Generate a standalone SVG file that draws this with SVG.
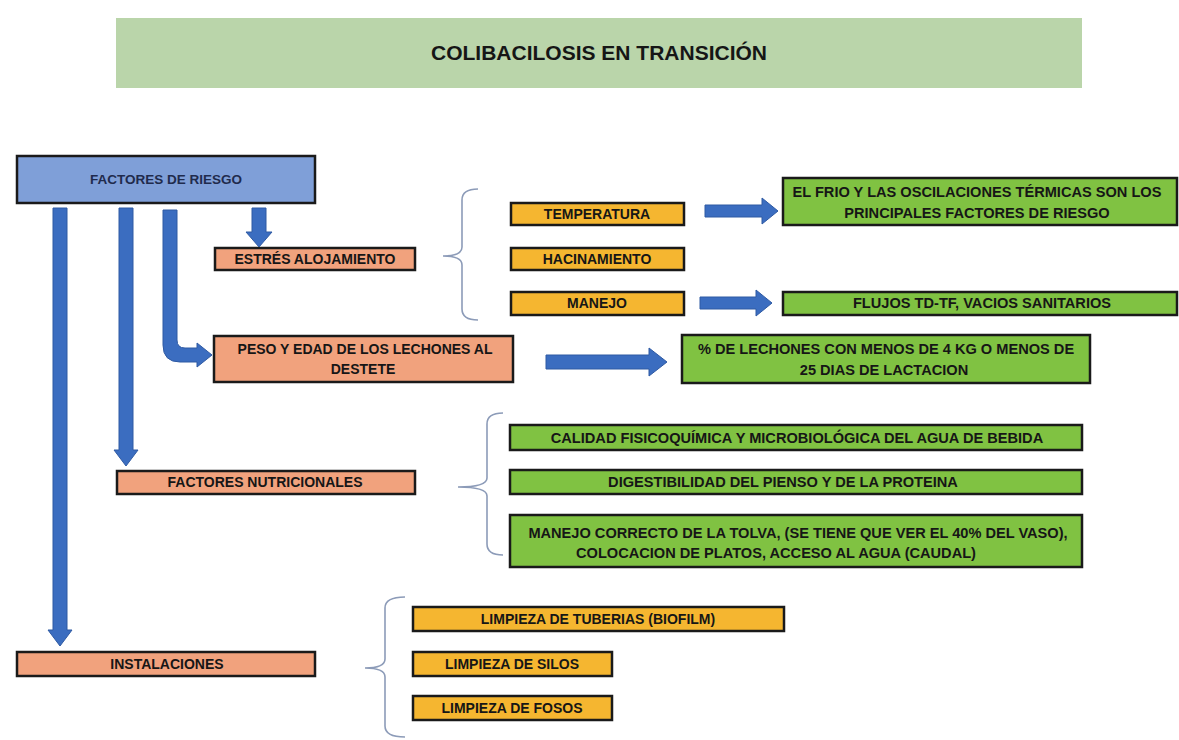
<svg xmlns="http://www.w3.org/2000/svg" width="1179" height="740" viewBox="0 0 1179 740">
<style>
.t{font-family:"Liberation Sans",Arial,sans-serif;font-weight:bold;font-size:14px;fill:#161616;text-anchor:middle}
.g{font-size:14.6px}
.bx{stroke:#1a1a1a;stroke-width:2.5}
.blue{fill:#7f9fd8}
.sal{fill:#f1a27d}
.org{fill:#f5b630}
.grn{fill:#80c242}
.arr{fill:#3b6dc0;stroke:#2f5aa3;stroke-width:1}
.br{fill:none;stroke:#8c9bb8;stroke-width:1.6}
</style>
<rect width="1179" height="740" fill="#ffffff"/>
<g id="title">
<rect x="116" y="18" width="966" height="70" fill="#bad5aa"/>
<text class="t" x="599" y="60" style="font-size:21px">COLIBACILOSIS EN TRANSICIÓN</text>
</g>
<g id="factores-riesgo">
<rect class="bx blue" x="17" y="156" width="298" height="47"/>
<text class="t" x="166" y="184" style="fill:#1f2b4d;font-size:13.5px">FACTORES DE RIESGO</text>
</g>
<g id="estres">
<rect class="bx sal" x="215" y="248" width="200" height="22"/>
<text class="t" x="315" y="264">ESTRÉS ALOJAMIENTO</text>
</g>
<g id="temperatura">
<rect class="bx org" x="511" y="203" width="173" height="22"/>
<text class="t" x="597" y="219">TEMPERATURA</text>
</g>
<g id="hacinamiento">
<rect class="bx org" x="511" y="248" width="173" height="22"/>
<text class="t" x="597" y="264">HACINAMIENTO</text>
</g>
<g id="manejo">
<rect class="bx org" x="511" y="292" width="173" height="23"/>
<text class="t" x="597" y="308">MANEJO</text>
</g>
<g id="frio">
<rect class="bx grn" x="783" y="178" width="394" height="47"/>
<text class="t g" x="977" y="197">EL FRIO Y LAS OSCILACIONES TÉRMICAS SON LOS</text>
<text class="t g" x="977" y="218">PRINCIPALES FACTORES DE RIESGO</text>
</g>
<g id="flujos">
<rect class="bx grn" x="783" y="292" width="394" height="23"/>
<text class="t g" x="982" y="308">FLUJOS TD-TF, VACIOS SANITARIOS</text>
</g>
<g id="peso">
<rect class="bx sal" x="214" y="336" width="299" height="46"/>
<text class="t" x="365" y="354">PESO Y EDAD DE LOS LECHONES AL</text>
<text class="t" x="363" y="374">DESTETE</text>
</g>
<g id="lechones">
<rect class="bx grn" x="682" y="335" width="408" height="48"/>
<text class="t g" x="886" y="354">% DE LECHONES CON MENOS DE 4 KG O MENOS DE</text>
<text class="t g" x="884" y="375">25 DIAS DE LACTACION</text>
</g>
<g id="calidad">
<rect class="bx grn" x="510" y="425" width="572" height="25"/>
<text class="t g" x="797" y="443">CALIDAD FISICOQUÍMICA Y MICROBIOLÓGICA DEL AGUA DE BEBIDA</text>
</g>
<g id="digestibilidad">
<rect class="bx grn" x="510" y="470" width="572" height="24"/>
<text class="t g" x="783" y="487">DIGESTIBILIDAD DEL PIENSO Y DE LA PROTEINA</text>
</g>
<g id="tolva">
<rect class="bx grn" x="510" y="515" width="572" height="52"/>
<text class="t g" x="798" y="538">MANEJO CORRECTO DE LA TOLVA, (SE TIENE QUE VER EL 40% DEL VASO),</text>
<text class="t g" x="776" y="558">COLOCACION DE PLATOS, ACCESO AL AGUA (CAUDAL)</text>
</g>
<g id="nutricionales">
<rect class="bx sal" x="117" y="471" width="298" height="23"/>
<text class="t" x="265" y="487">FACTORES NUTRICIONALES</text>
</g>
<g id="instalaciones">
<rect class="bx sal" x="17" y="652" width="298" height="24"/>
<text class="t" x="167" y="669">INSTALACIONES</text>
</g>
<g id="tuberias">
<rect class="bx org" x="413" y="607" width="371" height="24"/>
<text class="t" x="598" y="624">LIMPIEZA DE TUBERIAS (BIOFILM)</text>
</g>
<g id="silos">
<rect class="bx org" x="413" y="652" width="199" height="24"/>
<text class="t" x="512" y="669">LIMPIEZA DE SILOS</text>
</g>
<g id="fosos">
<rect class="bx org" x="413" y="696" width="199" height="24"/>
<text class="t" x="512" y="713">LIMPIEZA DE FOSOS</text>
</g>
<g id="connectors">
<polygon class="arr" points="53,208 67,208 67,630 72,630 60,646 48,630 53,630"/>
<polygon class="arr" points="119,208 133,208 133,450 138,450 126,466 114,450 119,450"/>
<path class="arr" d="M163,210 L177,210 L177,340 Q177,348 185,348 L197,348 L197,343 L212,355 L197,367 L197,362 L180,362 Q163,362 163,345 Z"/>
<polygon class="arr" points="252,208 266,208 266,232 272,232 259,247 246,232 252,232"/>
<polygon class="arr" points="705,205 762,205 762,198 778,211 762,224 762,217 705,217"/>
<polygon class="arr" points="700,297 756,297 756,290 772,303 756,316 756,309 700,309"/>
<polygon class="arr" points="546,355 649,355 649,348 667,362 649,376 649,369 546,369"/>
<path class="br" d="M478,189 Q462,189 462,200 L462,247 Q462,256 443,256 Q462,256 462,265 L462,309 Q462,320 478,320"/>
<path class="br" d="M503,413 Q487,413 487,424 L487,478 Q487,487 458,487 Q487,487 487,496 L487,544 Q487,555 503,555"/>
<path class="br" d="M405,597 Q385,597 385,608 L385,659 Q385,668 365,668 Q385,668 385,677 L385,726 Q385,737 405,737"/>
</g>
</svg>
